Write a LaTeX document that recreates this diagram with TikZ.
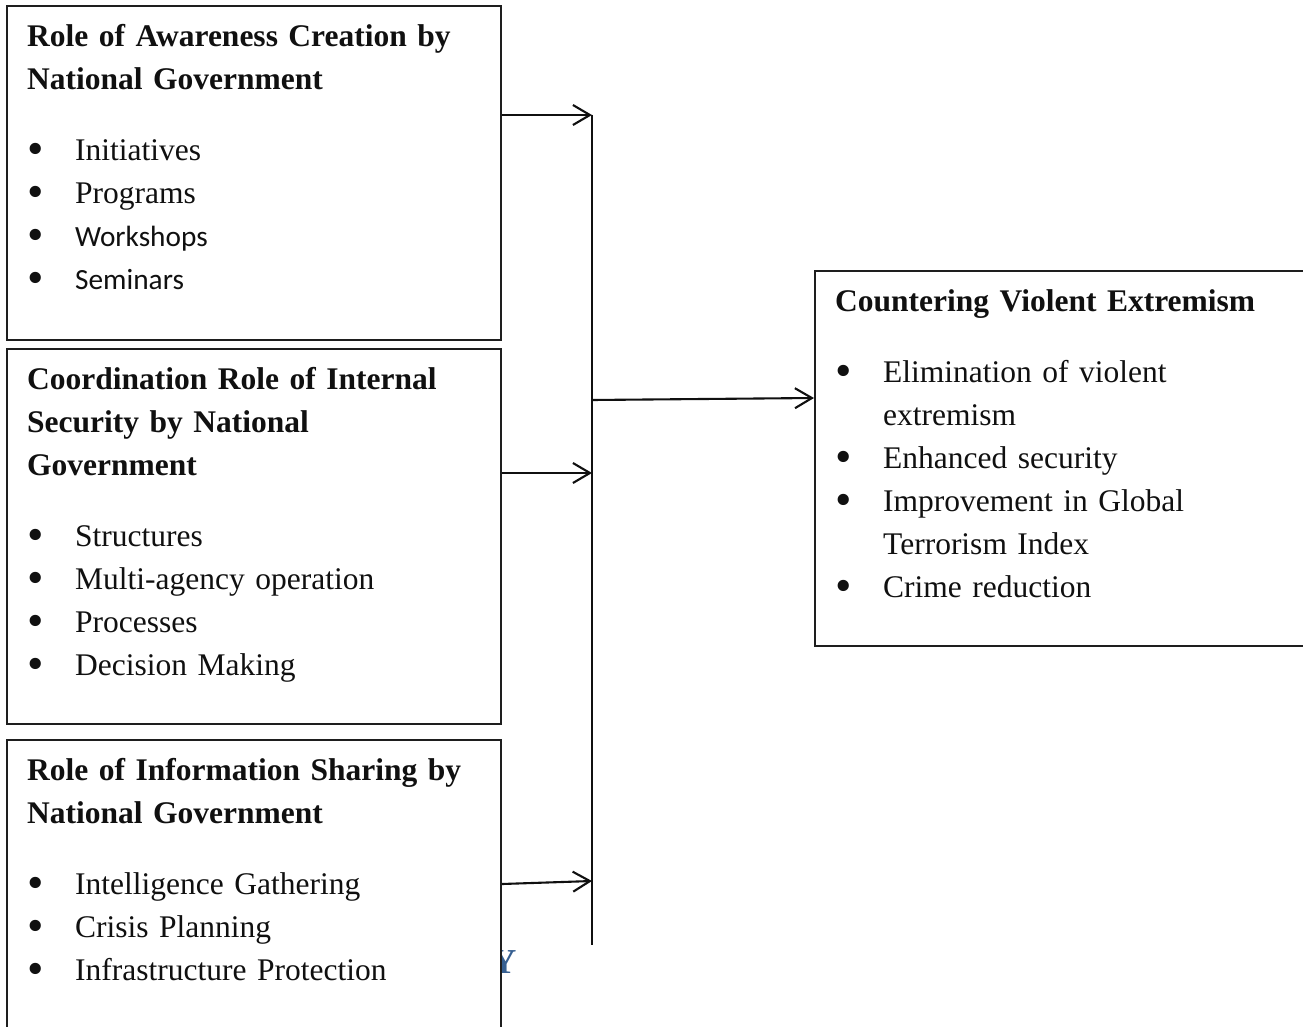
\documentclass[tikz,border=0pt]{standalone}
\usepackage{fontspec}
\setmainfont{Liberation Serif}
\newfontfamily\calibfont{Carlito}
\usepackage{tikz}
\usetikzlibrary{arrows.meta,positioning,calc}
\definecolor{cvInk}{HTML}{101010}
\definecolor{cvFrame}{HTML}{1E1E1E}
\definecolor{cvHead}{HTML}{365F91}
% bullet + indent for list lines, and indent for wrapped lines
\newcommand{\bul}{\makebox[48pt][l]{\hspace{0pt}\raisebox{-4pt}{\fontsize{47}{43}\selectfont\textbullet}}}
\newcommand{\cont}{\hspace*{48pt}}
\newcommand{\calib}[1]{{\calibfont\fontsize{29.3}{43}\selectfont #1}}
\tikzset{
  % Framed box (size given per box)
  frm/.style={rectangle,draw=cvFrame,line width=2.2pt,fill=white,
    anchor=north west,inner sep=0pt},
  % Title and bullet list set inside a box
  ltxt/.style={anchor=north west,inner sep=0pt,text width=460pt,
    align=left,font=\fontsize{31.5}{43}\selectfont,text=cvInk},
  % Arrows
  arr/.style={-{Straight Barb[length=17pt,width=20pt]},line width=2.1pt,color=cvInk},
  bus/.style={line width=2.1pt,color=cvInk},
}

\begin{document}
\begin{tikzpicture}[x=1pt,y=-1pt]
  \useasboundingbox (0,0) rectangle (1303,1027);
  \clip (0,0) rectangle (1303,1027);

  % Heading letter peeking out behind the last box
  \node[anchor=base west,inner sep=0pt,text=cvHead,
    font=\fontsize{35}{40}\selectfont\bfseries] (ylet) at (491,973) {Y};

  % Box: awareness creation
  \node[frm,minimum width=494pt,minimum height=334pt] (aware) at (6,5) {};
  \node[ltxt] (awaretxt) at ($(aware.north west)+(21,19)$) {%
    {\bfseries Role of Awareness Creation by\\National Government}\\[28pt]
    \bul Initiatives\\
    \bul Programs\\
    \bul\calib{Workshops}\\
    \bul\calib{Seminars}};

  % Box: coordination of internal security
  \node[frm,minimum width=494pt,minimum height=375pt] (coord) at (6,348) {};
  \node[ltxt] (coordtxt) at ($(coord.north west)+(21,19)$) {%
    {\bfseries Coordination Role of Internal\\Security by National\\Government}\\[28pt]
    \bul Structures\\
    \bul Multi-agency operation\\
    \bul Processes\\
    \bul Decision Making};

  % Box: information sharing (runs off the bottom)
  \node[frm,minimum width=494pt,minimum height=330pt] (info) at (6,739) {};
  \node[ltxt] (infotxt) at ($(info.north west)+(21,19)$) {%
    {\bfseries Role of Information Sharing by\\National Government}\\[28pt]
    \bul Intelligence Gathering\\
    \bul Crisis Planning\\
    \bul Infrastructure Protection};

  % Box: outcome (runs off the right edge)
  \node[frm,minimum width=510pt,minimum height=375pt] (cve) at (814,270) {};
  \node[ltxt] (cvetxt) at ($(cve.north west)+(21,19)$) {%
    {\bfseries Countering Violent Extremism}\\[28pt]
    \bul Elimination of violent\\
    \cont extremism\\
    \bul Enhanced security\\
    \bul Improvement in Global\\
    \cont Terrorism Index\\
    \bul Crime reduction};

  % Collector line
  \coordinate (j1) at (592,115);
  \coordinate (j4) at (592,400);
  \coordinate (j2) at (592,473);
  \coordinate (j3) at (592,881);
  \coordinate (jend) at (592,945);
  \draw[bus] (j1) -- (jend);

  % Arrows into the collector and out to the outcome
  \draw[arr] (aware.east |- j1) -- (j1);
  \draw[arr] (coord.east |- j2) -- (j2);
  \draw[arr] ($(info.east |- j3)+(0,3)$) -- (j3);
  \draw[arr] (j4) -- ($(cve.west |- j4)+(0,-2)$);
\end{tikzpicture}
\end{document}
